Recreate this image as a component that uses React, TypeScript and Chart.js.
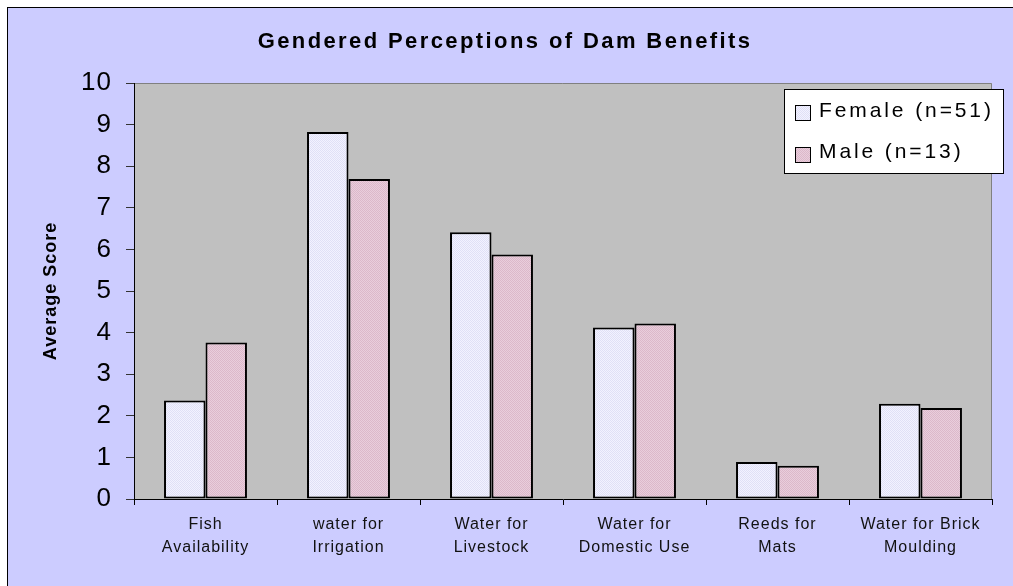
import React, { useEffect, useRef } from "react";
import { Chart, registerables } from "chart.js";

Chart.register(...registerables);

const categories: string[][] = [
  ["Fish", "Availability"],
  ["water for", "Irrigation"],
  ["Water for", "Livestock"],
  ["Water for", "Domestic Use"],
  ["Reeds for", "Mats"],
  ["Water for Brick", "Moulding"],
];
const femaleScores = [2.37, 8.82, 6.41, 4.12, 0.89, 2.29];
const maleScores = [3.76, 7.69, 5.88, 4.22, 0.8, 2.19];
const seriesLabels = ["Female (n=51)", "Male (n=13)"];
const yMin = 0;
const yMax = 10;
const yStep = 1;
const titleText = "Gendered Perceptions of Dam Benefits";
const yAxisTitle = "Average Score";

const FONT = "Arial, 'Liberation Sans', sans-serif";

function makePattern(ctx: CanvasRenderingContext2D, base: string, dot: string) {
  const c = document.createElement("canvas");
  c.width = 2;
  c.height = 2;
  const g = c.getContext("2d")!;
  g.fillStyle = base;
  g.fillRect(0, 0, 2, 2);
  g.fillStyle = dot;
  g.fillRect(0, 0, 1, 1);
  g.fillRect(1, 1, 1, 1);
  return ctx.createPattern(c, "repeat")!;
}

export default function App() {
  const ref = useRef<HTMLCanvasElement>(null);

  useEffect(() => {
    const canvas = ref.current!;
    const ctx = canvas.getContext("2d")!;
    const femaleFill = makePattern(ctx, "#F2F2FF", "#E0E0F6");
    const maleFill = makePattern(ctx, "#E9CEDC", "#DCB8CA");
    const fills = [femaleFill, maleFill];

    const decor = {
      id: "decor",
      beforeDraw(chart: any) {
        const c = chart.ctx as any;
        const a = chart.chartArea;
        c.save();
        c.fillStyle = "#C0C0C0";
        c.fillRect(a.left, a.top, a.right - a.left, a.bottom - a.top);
        c.strokeStyle = "#808080";
        c.lineWidth = 1;
        c.beginPath();
        c.moveTo(a.left, a.top + 0.5);
        c.lineTo(a.right - 0.5, a.top + 0.5);
        c.lineTo(a.right - 0.5, a.bottom);
        c.stroke();
        c.restore();
        c.letterSpacing = "1px";
      },
      afterDraw(chart: any) {
        const c = chart.ctx as any;
        c.save();
        // title
        c.letterSpacing = "2.4px";
        c.font = `bold 22px ${FONT}`;
        c.fillStyle = "#000";
        c.textAlign = "center";
        c.textBaseline = "alphabetic";
        c.fillText(titleText, 497, 40);
        // legend
        c.letterSpacing = "0px";
        const bx = 776, by = 81, bw = 219, bh = 84;
        c.fillStyle = "#FFFFFF";
        c.fillRect(bx, by, bw, bh);
        c.strokeStyle = "#000";
        c.lineWidth = 1;
        c.strokeRect(bx + 0.5, by + 0.5, bw, bh);
        const rows = [
          { sq: 97, base: 109 },
          { sq: 139, base: 150 },
        ];
        c.font = `21px ${FONT}`;
        c.textAlign = "left";
        seriesLabels.forEach((lab, i) => {
          c.fillStyle = fills[i];
          c.fillRect(787, rows[i].sq, 15, 15);
          c.strokeStyle = "#000";
          c.strokeRect(787.5, rows[i].sq + 0.5, 15, 15);
          c.fillStyle = "#000";
          c.letterSpacing = "2.9px";
          c.fillText(lab, 811, rows[i].base);
          c.letterSpacing = "0px";
        });
        c.restore();
        c.letterSpacing = "0px";
      },
    };

    const chart = new Chart(canvas, {
      type: "bar",
      data: {
        labels: categories,
        datasets: [
          {
            label: seriesLabels[0],
            data: femaleScores,
            backgroundColor: femaleFill as any,
            borderColor: "#000",
            borderWidth: 2,
            borderSkipped: false,
            categoryPercentage: 0.58,
            barPercentage: 1,
          },
          {
            label: seriesLabels[1],
            data: maleScores,
            backgroundColor: maleFill as any,
            borderColor: "#000",
            borderWidth: 2,
            borderSkipped: false,
            categoryPercentage: 0.58,
            barPercentage: 1,
          },
        ],
      },
      options: {
        responsive: false,
        animation: false,
        devicePixelRatio: 1,
        layout: { padding: { top: 75, right: 21, bottom: 0, left: 0 } },
        plugins: {
          legend: { display: false },
          title: { display: false },
          tooltip: { enabled: false },
        },
        scales: {
          x: {
            afterFit: (s: any) => {
              s.height = 87;
            },
            grid: {
              display: true,
              drawOnChartArea: false,
              offset: true,
              tickLength: 6,
              color: "#000",
            },
            border: { display: true, color: "#000", width: 1 },
            ticks: {
              color: "#111",
              font: { family: FONT, size: 16, lineHeight: 1.45 },
              padding: 8,
              maxRotation: 0,
              autoSkip: false,
            },
          },
          y: {
            min: yMin,
            max: yMax,
            afterFit: (s: any) => {
              s.width = 126;
            },
            grid: {
              display: true,
              drawOnChartArea: false,
              tickLength: 8,
              color: "#333",
            },
            border: { display: true, color: "#000", width: 1 },
            ticks: {
              stepSize: yStep,
              color: "#000",
              font: { family: FONT, size: 26 },
              padding: 14,
            },
            title: {
              display: true,
              text: yAxisTitle,
              color: "#000",
              font: { family: FONT, size: 18, weight: "bold" },
              padding: { top: 32, bottom: 0 },
            },
          },
        },
      },
      plugins: [decor],
    });

    return () => chart.destroy();
  }, []);

  return (
    <div
      style={{
        position: "fixed",
        left: 7,
        top: 7,
        width: 1006,
        height: 579,
        background: "#CCCCFF",
        borderLeft: "1px solid #000",
        borderTop: "1px solid #000",
        boxSizing: "border-box",
      }}
    >
      <canvas
        ref={ref}
        width={1005}
        height={578}
        style={{ display: "block", width: 1005, height: 578 }}
      />
    </div>
  );
}
